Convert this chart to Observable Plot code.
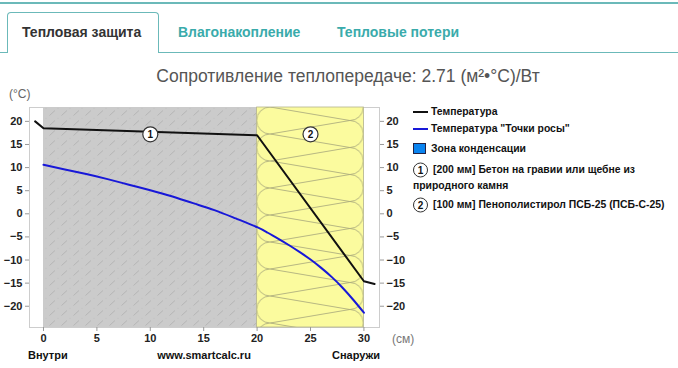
<!DOCTYPE html>
<html><head><meta charset="utf-8">
<script src="https://cdn.jsdelivr.net/npm/d3@7"></script>
<script src="https://cdn.jsdelivr.net/npm/@observablehq/plot@0.6"></script>
<style>
body{margin:0;background:#fff;font-family:"Liberation Sans",Arial,sans-serif;}
#root{position:relative;width:678px;height:368px;overflow:hidden;background:#fff;}
.abs{position:absolute;white-space:nowrap;transform:translateY(-50%);line-height:1.15;}
.teal{color:#3aabab;}
#chart{position:absolute;left:0;top:85px;}
.leg{font-size:10.4px;font-weight:bold;color:#111;}
.circ{position:absolute;width:13px;height:13px;border:1.2px solid #333;border-radius:50%;background:#fff;font-size:10px;font-weight:bold;text-align:center;line-height:13px;color:#111;transform:translateY(-50%);}
</style></head><body><div id="root"></div>
<script>
// ---- data ----
const tabNames = ["Тепловая защита", "Влагонакопление", "Тепловые потери"];
const titleText = "Сопротивление теплопередаче: 2.71 (м²•°С)/Вт";
const layerFrom = [0, 20];
const layerTo = [20, 30];
const layerLabels = ["1", "2"];
const layerLabelX = [10, 25];
const layerLabelY = [17.2, 17.2];
const xTicks = [0, 5, 10, 15, 20, 25, 30];
const yTicks = [-20, -15, -10, -5, 0, 5, 10, 15, 20];
const tempX = [-0.78, 0, 20, 30, 31];
const tempY = [20, 18.5, 17.0, -14.6, -15.2];
const dewX = [0, 2, 4, 6, 8, 10, 12, 14, 16, 18, 20, 21, 22, 23, 24, 25, 26, 27, 28, 29, 30];
const dewY = [10.6, 9.6, 8.6, 7.5, 6.3, 5.1, 3.8, 2.3, 0.8, -1.0, -2.9, -4.1, -5.4, -6.8, -8.3, -9.9, -11.7, -13.7, -16.0, -18.6, -21.4];
const legendSeries = ["Температура", "Температура \"Точки росы\"", "Зона конденсации"];
const legendLayers = ["[200 мм] Бетон на гравии или щебне из", "[100 мм] Пенополистирол ПСБ-25 (ПСБ-С-25)"];
const legendLayer1Wrap = "природного камня";
const bottomLabels = ["Внутри", "www.smartcalc.ru", "Снаружи"];

const xDomain = [-1.31, 31.46];
const yDomain = [-24.6, 23.0];

const root = document.getElementById("root");
function add(html){ root.insertAdjacentHTML("beforeend", html); }

// tabs
add(`<div style="position:absolute;left:0;top:2px;width:678px;height:2px;background:#6bb9b9"></div>`);
add(`<div style="position:absolute;left:0;top:52px;width:678px;height:1px;background:#6bb9b9"></div>`);
add(`<div style="position:absolute;left:7px;top:12px;width:152px;height:41px;border:1px solid #6bb9b9;border-bottom:none;border-radius:4px 4px 0 0;background:#fff;box-sizing:border-box"></div>`);
add(`<div class="abs" style="left:22px;top:32px;font-size:14px;font-weight:bold;color:#333">${tabNames[0]}</div>`);
add(`<div class="abs teal" style="left:178px;top:32px;font-size:14px;font-weight:bold">${tabNames[1]}</div>`);
add(`<div class="abs teal" style="left:337px;top:32px;font-size:14px;font-weight:bold">${tabNames[2]}</div>`);
add(`<div class="abs" style="left:348px;top:76px;font-size:17.5px;color:#555;transform:translate(-50%,-50%)">${titleText}</div>`);
add(`<div class="abs" style="left:9px;top:95px;font-size:12px;color:#666">(°C)</div>`);

// chart
const labels = layerLabels.map((t, i) => ({t, x: layerLabelX[i], y: layerLabelY[i]}));
const temp = tempX.map((x, i) => ({x, y: tempY[i]}));
const dew = dewX.map((x, i) => ({x, y: dewY[i]}));
const concrete = [{x1: layerFrom[0], x2: layerTo[0]}];
const insul = [{x1: layerFrom[1], x2: layerTo[1]}];

const chart = Plot.plot({
  width: 678, height: 283,
  marginTop: 22, marginBottom: 41, marginLeft: 29, marginRight: 299,
  x: {domain: xDomain}, y: {domain: yDomain},
  style: {fontFamily: '"Liberation Sans", Arial, sans-serif', fontSize: "11px", fontWeight: "bold", color: "#222", background: "transparent", overflow: "visible"},
  marks: [
    Plot.frame({fill: "#fff", stroke: "#cdcdcd"}),
    Plot.rect(concrete, {x1: "x1", x2: "x2", y1: yDomain[0], y2: yDomain[1], fill: "url(#concretePat)"}),
    Plot.rect(insul, {x1: "x1", x2: "x2", y1: yDomain[0], y2: yDomain[1], fill: "url(#insulPat)", stroke: "#b4b48c", strokeWidth: 0.8}),
    Plot.line(dew, {x: "x", y: "y", stroke: "#1818d8", strokeWidth: 2, curve: "natural"}),
    Plot.line(temp, {x: "x", y: "y", stroke: "#111", strokeWidth: 2}),
    Plot.dot(labels, {x: "x", y: "y", r: 7.5, fill: "#fff", stroke: "#333", strokeWidth: 1.2}),
    Plot.text(labels, {x: "x", y: "y", text: "t", fontSize: 10, fontWeight: "bold", fill: "#111"}),
    Plot.axisY({ticks: yTicks, anchor: "left", tickSize: 4, tickPadding: 3, label: null, stroke: "#999", fill: "#222"}),
    Plot.axisY({ticks: yTicks, anchor: "right", tickSize: 4, tickPadding: 3, label: null, stroke: "#999", fill: "#222"}),
    Plot.axisX({ticks: xTicks, anchor: "bottom", tickSize: 4, tickPadding: 3, label: null, stroke: "#999", fill: "#222"})
  ]
});
chart.id = "chart";
root.appendChild(chart);

// patterns positioned with the library's scales
const sx = chart.scale("x"), sy = chart.scale("y");
const xa = sx.apply(layerFrom[1]), xb = sx.apply(layerTo[1]);
const yTop = sy.apply(yDomain[1]);
const W = xb - xa, H = 27, r = H / 2;
const ns = "http://www.w3.org/2000/svg";
const defs = document.createElementNS(ns, "defs");
defs.innerHTML = `
<pattern id="concretePat" patternUnits="userSpaceOnUse" x="0" y="${yTop}" width="12" height="10">
  <rect width="12" height="10" fill="#cbcbcb"/>
  <path d="M1.5 8.5 L7 3.5" stroke="#aeaeae" stroke-width="0.8"/>
  <circle cx="10" cy="1.2" r="0.45" fill="#b4b4b4"/>
</pattern>
<pattern id="insulPat" patternUnits="userSpaceOnUse" x="${xa}" y="${yTop}" width="${W}" height="${H}">
  <rect width="${W}" height="${H}" fill="#fbfb9e"/>
  <path fill="none" stroke="#a5a57a" stroke-width="0.8" d="
    M ${r} 0 A ${r} ${r} 0 0 0 ${r} ${H}
    M ${W - r} ${-H / 2} A ${r} ${r} 0 0 1 ${W - r} ${H / 2}
    M ${W - r} ${H / 2} A ${r} ${r} 0 0 1 ${W - r} ${1.5 * H}
    M ${r} 0 L ${W - r} ${H / 2}
    M ${r} 0 L ${W - r} ${-H / 2}
    M ${r} ${H} L ${W - r} ${H / 2}
    M ${r} ${H} L ${W - r} ${1.5 * H}"/>
</pattern>`;
chart.insertBefore(defs, chart.firstChild);

// x-axis side texts
add(`<div class="abs" style="left:392px;top:340px;font-size:12px;color:#777">(см)</div>`);
add(`<div class="abs" style="left:28px;top:355px;font-size:11px;font-weight:bold;color:#111">${bottomLabels[0]}</div>`);
add(`<div class="abs" style="left:204px;top:355px;font-size:11px;font-weight:bold;color:#111;transform:translate(-50%,-50%)">${bottomLabels[1]}</div>`);
add(`<div class="abs" style="left:356px;top:355px;font-size:11px;font-weight:bold;color:#111;transform:translate(-50%,-50%)">${bottomLabels[2]}</div>`);

// legend
add(`<div style="position:absolute;left:413px;top:111px;width:15px;height:2px;background:#111"></div>`);
add(`<div class="abs leg" style="left:431px;top:112px">${legendSeries[0]}</div>`);
add(`<div style="position:absolute;left:413px;top:128px;width:15px;height:2px;background:#1818d8"></div>`);
add(`<div class="abs leg" style="left:431px;top:129px">${legendSeries[1]}</div>`);
add(`<div style="position:absolute;left:413px;top:143px;width:13px;height:11px;background:#0a84f0;border:1px solid #224;box-sizing:border-box"></div>`);
add(`<div class="abs leg" style="left:431px;top:149px">${legendSeries[2]}</div>`);
add(`<div class="circ" style="left:413px;top:170px">${layerLabels[0]}</div>`);
add(`<div class="abs leg" style="left:433px;top:170px">${legendLayers[0]}</div>`);
add(`<div class="abs leg" style="left:413px;top:186px">${legendLayer1Wrap}</div>`);
add(`<div class="circ" style="left:413px;top:205px">${layerLabels[1]}</div>`);
add(`<div class="abs leg" style="left:433px;top:205px">${legendLayers[1]}</div>`);
</script></body></html>
